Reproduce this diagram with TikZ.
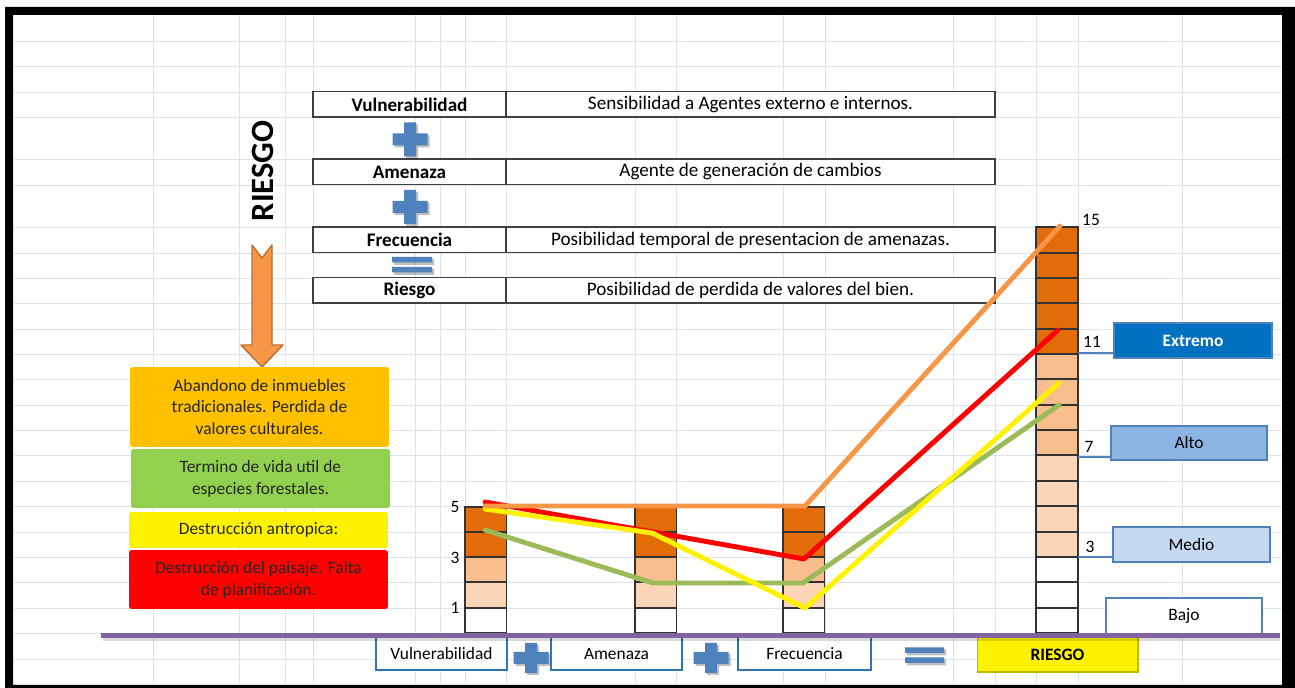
\documentclass[tikz,border=0pt]{standalone}
\usepackage{fontspec}
\setmainfont{Carlito}
\usepackage{tikz}

\definecolor{gridc}{RGB}{220,227,239}
\definecolor{xlblue}{RGB}{79,129,189}
\definecolor{darkor}{RGB}{226,107,10}
\definecolor{midor}{RGB}{248,190,142}
\definecolor{lightor}{RGB}{251,213,181}
\definecolor{arrowor}{RGB}{247,150,70}
\definecolor{arrowedge}{RGB}{190,110,50}
\definecolor{goldbox}{RGB}{255,192,0}
\definecolor{greenbox}{RGB}{146,208,80}
\definecolor{linegreen}{RGB}{155,187,89}
\definecolor{xlpurple}{RGB}{128,100,162}
\definecolor{extremoc}{RGB}{0,112,192}
\definecolor{altoc}{RGB}{141,180,226}
\definecolor{medioc}{RGB}{197,217,241}
\definecolor{sumblue}{RGB}{46,117,182}
\definecolor{riesgoedge}{RGB}{185,185,0}

\begin{document}
\begin{tikzpicture}[x=0.02cm,y=-0.02cm,
  cell/.style={draw=black!75, line width=0.85pt, fill=white, inner sep=0pt, font=\fontsize{10.9}{13}\selectfont},
  tag/.style={rounded corners=1.5pt, inner sep=0pt, align=center, text=black!85, minimum width=5.18cm, font=\fontsize{9.9}{12.5}\selectfont},
  level/.style={draw=xlblue, line width=0.7pt, inner sep=0pt, font=\fontsize{9.9}{12}\selectfont},
  sumbox/.style={draw=sumblue, line width=0.6pt, fill=white, inner sep=0pt, minimum height=0.66cm, font=\fontsize{9.9}{12}\selectfont},
  num/.style={inner sep=0pt, font=\fontsize{9.9}{12}\selectfont},
  serie/.style={line width=2.8pt, line join=round, line cap=round},
  conn/.style={draw=xlblue, line width=1.1pt}
]
 \path[use as bounding box] (0,0) rectangle (1295,688);
\fill[white] (13,15) rectangle (1282,685);
\fill[black, even odd rule] (5,7) rectangle (1295,688) (13,15) rectangle (1282,685);

\foreach \x in {153,239,285,313,415,440,465,506,635,676,783,825,953,995,1036,1078,1182}
	\draw[gridc, line width=0.5pt] (\x,15) -- (\x,685);
\foreach \y in {41,66,92,117,159,185,227,253,278,303,329,354,379,405,430,455,481,506,532,557,582,608,633,659}
	\draw[gridc, line width=0.5pt] (13,\y) -- (1282,\y);

\foreach \y/\a/\b [count=\i] in {104.5/Vulnerabilidad/Sensibilidad a Agentes externo e internos., 172/Amenaza/Agente de generación de cambios, 240/Frecuencia/Posibilidad temporal de presentacion de amenazas., 290.5/Riesgo/Posibilidad de perdida de valores del bien.}
{
	\node[cell, minimum width=3.86cm, minimum height=0.51cm] (nom\i) at (409.5,\y) {\textbf{\a}};
	\node[cell, minimum width=9.78cm, minimum height=0.51cm] (def\i) at (750.5,\y) {\b};
}

\foreach \x/\y/\h in {410/139.5/17, 410/207/17, 531/658/15, 711/658/15}
{
	\fill[black, opacity=0.25] ({\x-15.5},{\y-4}) rectangle ({\x+19.5},{\y+8}) ({\x-4},{\y-\h+2}) rectangle ({\x+8},{\y+\h+2});
	\fill[xlblue] ({\x-17.5},{\y-6}) rectangle ({\x+17.5},{\y+6}) ({\x-6},{\y-\h}) rectangle ({\x+6},{\y+\h});
}
\foreach \x/\y/\w in {412/265/20, 924.5/655.5/19.5}
{
	\fill[black, opacity=0.25] ({\x-\w+2},{\y-6}) rectangle ({\x+\w+2},{\y}) ({\x-\w+2},{\y+4}) rectangle ({\x+\w+2},{\y+10});
	\fill[xlblue] ({\x-\w},{\y-8}) rectangle ({\x+\w},{\y-2.5}) ({\x-\w},{\y+2}) rectangle ({\x+\w},{\y+7.5});
}

\node[rotate=90, inner sep=0pt, font=\fontsize{18.5}{20}\selectfont\bfseries] (riesgo) at (262.5,171) {RIESGO};
\filldraw[fill=arrowor, draw=arrowedge, line width=0.8pt, line join=round] (252,245) -- (262,258) -- (272,245) -- (272,345) -- (283,345) -- (262,367) -- (241,345) -- (252,345) -- cycle;

\node[tag, fill=goldbox, minimum height=1.6cm] (abandono) at (259.5,407) {Abandono de inmuebles\\tradicionales. Perdida de\\valores culturales.};
\node[tag, fill=greenbox, minimum height=1.18cm] (termino) at (260.5,478.5) {Termino de vida util de\\especies forestales.};
\node[tag, fill=yellow, minimum height=0.72cm] (antropica) at (258.5,530) {Destrucción antropica:};
\node[tag, fill=red, minimum height=1.18cm] (paisaje) at (258.5,579.5) {Destrucción del paisaje. Falta\\de planificación.};

\foreach \t/\b/\c in {507/532/darkor, 532/557/darkor, 557/582/midor, 582/608/lightor, 608/633/white}
	\foreach \x in {465,635,783}
		\filldraw[fill=\c, draw=black!80, line width=0.75pt] (\x,\t) rectangle ({\x+41.5},\b);
\foreach \t/\b/\c in {227/253/darkor, 253/278/darkor, 278/303/darkor, 303/329/darkor, 329/354/darkor, 354/379/midor, 379/405/midor, 405/430/midor, 430/455/midor, 455/481/lightor, 481/506/lightor, 506/532/lightor, 532/557/lightor, 557/582/white, 582/608/white, 608/633/white}
	\filldraw[fill=\c, draw=black!80, line width=0.75pt] (1036,\t) rectangle (1078,\b);

\foreach \v/\y in {5/507, 3/558, 1/608}
	\node[num] (v\v) at (455,\y) {\v};
\foreach \v/\x/\y in {15/1091/220, 11/1092/342, 7/1089/447, 3/1090/547}
	\node[num] (r\v) at (\x,\y) {\v};

\draw[serie, linegreen] (485,530) -- (653,583) -- (803,583) -- (1059,405);
\draw[serie, red] (485,502) -- (804,559) -- (1058,330);
\draw[serie, yellow] (485,509) -- (652,533) -- (805,608) -- (1059,383);
\draw[serie, arrowor] (485,506) -- (805,506) -- (1060,226);

\node[level, fill=extremoc, text=white, minimum width=3.16cm, minimum height=0.7cm] (extremo) at (1193,340.5) {\textbf{Extremo}};
\node[level, fill=altoc, minimum width=3.12cm, minimum height=0.68cm] (alto) at (1189,443) {Alto};
\node[level, fill=medioc, minimum width=3.14cm, minimum height=0.7cm] (medio) at (1191.5,544.5) {Medio};
\node[level, fill=white, minimum width=3.12cm, minimum height=0.72cm] (bajo) at (1184,616) {Bajo};

\coordinate (b11) at (1078,353);
\coordinate (b7) at (1078,457);
\coordinate (b3) at (1078,557);
\draw[conn] (b11) -- (b11 -| extremo.west);
\draw[conn] (b7) -- (b7 -| alto.west);
\draw[conn] (b3) -- (b3 -| medio.west);

\node[sumbox, minimum width=2.62cm] (svul) at (441.5,653.5) {Vulnerabilidad};
\node[sumbox, minimum width=2.62cm] (same) at (616.5,653.5) {Amenaza};
\node[sumbox, minimum width=2.66cm] (sfre) at (804.5,653.5) {Frecuencia};
\node[sumbox, fill=yellow, draw=riesgoedge, minimum width=3.22cm, minimum height=0.7cm] (srie) at (1057.5,654.5) {\textbf{RIESGO}};

\draw[black, opacity=0.15, line width=2.5pt] (103,638.5) -- (1280,638.5);
\draw[xlpurple, line width=2.5pt] (101,635.5) -- (1280,635.5);

\end{tikzpicture}
\end{document}
